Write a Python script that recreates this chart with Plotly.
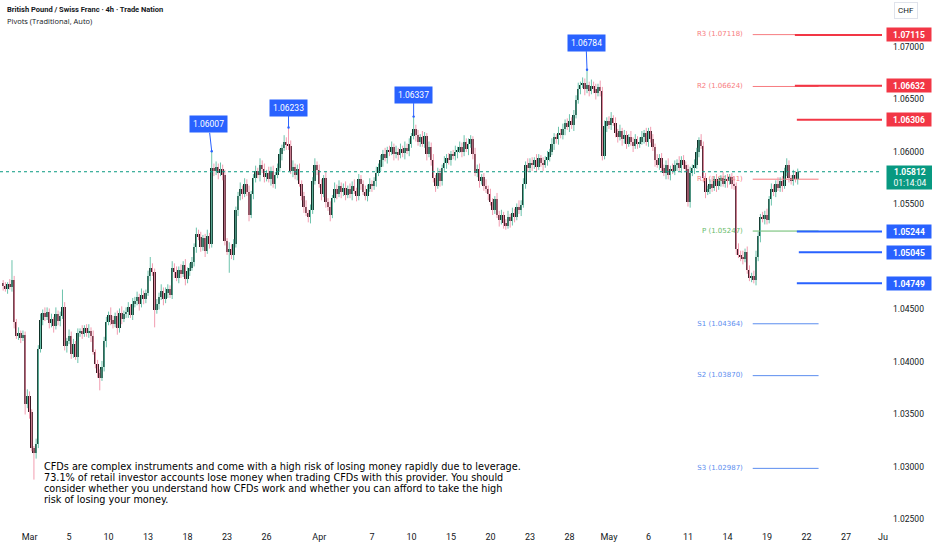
import numpy as np
import plotly.graph_objects as go

# GBP/CHF 4h candles, prices in pips above 1.0000
PIP = 0.0001
first_open = 475
close_pips = [
    472, 470, 474, 471, 478, 438, 425, 428, 423, 426,
    360, 368, 352, 318, 313, 322, 412, 440, 447,
    443, 448, 437, 441, 434, 446, 439, 444, 452,
    415, 420, 425, 408, 417, 405, 428, 430, 427, 432, 428, 430, 425,
    410, 398, 390, 385, 395, 420, 438, 445, 440,
    436, 444, 432, 447, 441, 446, 448, 452, 445, 455,
    458, 462, 455, 464, 460, 466, 482, 490, 486, 450, 455,
    462, 468, 460, 466, 470, 464, 490, 486,
    480, 488, 484, 492, 479, 487, 490, 495, 510, 522, 519,
    510, 518, 506, 520, 512, 585, 582, 586, 580, 584, 578,
    515, 505, 508, 502, 512, 545, 558, 565, 560, 570, 562, 540, 560,
    575, 582, 578, 588, 584, 576, 580, 574, 582, 570, 578, 585,
    598, 604, 610, 607, 606, 582, 586, 578, 584, 570, 558,
    548, 542, 538, 545, 572, 588, 583,
    570, 560, 575, 552, 548, 540, 556, 565, 560, 568,
    562, 566, 559, 565, 560, 568, 563, 558, 574, 570,
    562, 558, 565, 570, 568, 572,
    580, 586, 592, 598, 594, 602, 600, 605, 598,
    600, 597, 603, 599, 604, 601, 608, 615, 622, 616, 610, 614,
    608, 615, 598, 605, 592, 575, 568, 580, 572, 585,
    590, 594, 592, 598, 596, 600, 602, 605, 600, 610, 603, 608, 612, 598,
    580, 584, 572, 576, 568, 565, 560, 552, 545, 555, 540,
    535, 540, 532, 530, 538, 534, 542, 538, 548, 545, 550,
    570, 588, 585, 590, 588, 592, 586, 594, 590, 588, 592, 595,
    600, 608, 614, 612, 618, 616, 622, 628, 624, 630, 626, 635,
    650, 660, 664, 666, 660, 664, 658, 663, 660, 656, 662, 658,
    596, 625, 630, 626, 632, 628, 618, 614, 620,
    612, 616, 608, 614, 610, 606, 612, 608, 610,
    614, 618, 610, 620, 612, 605, 592, 588, 594,
    585, 580, 588, 578, 584, 582, 588, 590, 585, 592, 588, 584,
    552, 580, 585, 588, 600, 611, 606, 575, 562, 565,
    570, 566, 574, 568, 572, 575, 570, 574, 572, 576, 570,
    568, 508, 502, 500, 498, 505, 488, 480, 482, 478,
    500, 520, 538, 536, 540, 535, 555, 565, 562,
    570, 566, 572, 568, 582, 588, 575, 572, 578, 574, 581.2,
]
upper_wick = [
    3, 4, 2, 5, 19, 4, 3, 5, 2, 4, 3, 6, 4, 3, 2, 5, 4, 6, 3, 5,
    4, 3, 5, 2, 6, 3, 4, 17, 5, 3, 6, 4, 5, 3, 4, 2, 5, 3, 4, 6,
    3, 5, 2, 4, 3, 6, 4, 5, 3, 7, 4, 3, 5, 4, 6, 3, 4, 5, 3, 6,
    4, 5, 3, 6, 4, 3, 5, 10, 4, 3, 5, 4, 6, 3, 5, 4, 3, 6, 4, 5,
    3, 5, 4, 6, 3, 4, 5, 3, 6, 4, 5, 3, 4, 6, 3, 15.7, 4, 5, 3, 6,
    4, 5, 3, 6, 4, 5, 3, 4, 6, 3, 5, 4, 6, 3, 4, 5, 3, 6, 4, 5,
    3, 6, 4, 5, 3, 4, 5, 3, 6, 4, 16.3, 5, 6, 3, 4, 5, 3, 4, 6, 3,
    5, 4, 6, 3, 5, 4, 3, 6, 4, 5, 3, 6, 4, 5, 3, 4, 6, 3, 5, 4,
    6, 3, 5, 4, 3, 6, 4, 5, 3, 4, 6, 3, 5, 4, 6, 3, 4, 5, 3, 6,
    4, 5, 3, 6, 4, 5, 3, 11.7, 4, 5, 3, 6, 4, 3, 5, 4, 6, 3, 5, 4,
    3, 6, 4, 5, 3, 4, 6, 3, 5, 4, 6, 3, 5, 4, 3, 6, 4, 5, 3, 4,
    6, 3, 5, 4, 3, 6, 4, 5, 3, 4, 6, 3, 5, 4, 3, 6, 4, 5, 3, 6,
    4, 5, 3, 6, 4, 3, 5, 4, 6, 3, 5, 4, 3, 6, 4, 5, 3, 4, 6, 3,
    5, 4, 6, 3, 5, 4, 14.4, 3, 6, 4, 5, 3, 6, 4, 5, 3, 4, 6, 3, 5,
    4, 6, 3, 5, 4, 3, 6, 4, 5, 3, 4, 6, 3, 5, 3, 4, 5, 3, 6, 4,
    5, 3, 4, 6, 3, 5, 4, 3, 6, 4, 5, 3, 4, 6, 3, 5, 4, 3, 6, 4,
    5, 3, 4, 6, 3, 5, 4, 3, 6, 4, 5, 3, 4, 6, 3, 5, 4, 6, 3, 5,
    4, 3, 5, 6, 4, 3, 5, 4, 6, 3, 5, 4, 3, 6, 4, 5, 3, 6, 4, 3,
    5, 4, 3,
]
lower_wick = [
    4, 3, 5, 2, 4, 6, 3, 4, 5, 3, 10, 4, 6, 3, 25, 5, 4, 3, 5, 4,
    3, 5, 4, 6, 3, 4, 5, 3, 4, 6, 3, 5, 4, 3, 6, 4, 5, 3, 4, 5,
    6, 3, 4, 5, 12, 3, 4, 6, 3, 5, 4, 3, 6, 4, 5, 3, 4, 6, 3, 5,
    3, 4, 6, 3, 5, 4, 3, 5, 4, 17, 4, 5, 3, 6, 4, 5, 3, 4, 6, 3,
    5, 4, 3, 6, 4, 5, 3, 4, 6, 3, 5, 4, 6, 3, 4, 3, 5, 4, 6, 3,
    5, 4, 3, 20, 4, 5, 3, 6, 4, 5, 3, 4, 6, 3, 5, 4, 3, 6, 4, 5,
    4, 3, 6, 4, 5, 3, 4, 6, 3, 5, 4, 3, 6, 4, 5, 3, 4, 6, 3, 5,
    6, 4, 3, 5, 4, 6, 3, 5, 4, 6, 3, 4, 5, 3, 6, 4, 5, 3, 4, 6,
    3, 5, 4, 6, 3, 4, 5, 3, 6, 4, 5, 3, 4, 6, 3, 5, 4, 3, 6, 4,
    5, 3, 4, 6, 3, 5, 4, 3, 6, 4, 5, 3, 4, 6, 3, 5, 4, 6, 3, 5,
    4, 3, 6, 4, 5, 3, 4, 6, 3, 5, 4, 3, 6, 4, 5, 3, 4, 6, 3, 5,
    4, 6, 3, 5, 4, 3, 6, 4, 5, 4, 3, 6, 4, 5, 3, 4, 6, 3, 5, 4,
    3, 6, 4, 5, 3, 4, 6, 3, 5, 4, 3, 6, 4, 5, 3, 4, 6, 3, 5, 4,
    6, 3, 4, 5, 3, 6, 4, 5, 3, 4, 6, 3, 5, 4, 3, 6, 4, 5, 3, 4,
    5, 3, 6, 4, 5, 3, 4, 6, 3, 5, 4, 3, 6, 4, 5, 3, 4, 6, 3, 5,
    4, 3, 6, 4, 5, 3, 4, 6, 3, 5, 4, 3, 4, 5, 3, 6, 4, 5, 3, 4,
    6, 3, 5, 4, 3, 6, 4, 5, 3, 4, 6, 3, 5, 4, 6, 3, 4, 5, 3, 4,
    3, 4, 3.1, 5, 4, 6, 3, 5, 4, 3, 6, 4, 5, 3, 4, 6, 3, 5, 4, 3,
    4, 3, 5,
]

# x axis (candle index of the first bar of each labelled day)
tick_idx = [12, 30, 48, 66, 84, 102, 120, 144, 168, 186, 204, 222, 240, 258,
            276, 294, 312, 330, 348, 366, 384]
tick_text = ["Mar", "5", "10", "13", "18", "23", "26", "Apr", "7", "10", "15",
             "20", "23", "28", "May", "6", "11", "14", "19", "22", "27"]

# price scale labels that are visible (1.05000 is hidden under a level tag)
price_ticks = [1.025, 1.030, 1.035, 1.040, 1.045, 1.055, 1.060, 1.065, 1.070]

# weekly pivots (Traditional)
pivot_names = ["R3", "R2", "R1", "P", "S1", "S2", "S3"]
pivot_values = [1.07118, 1.06624, 1.05741, 1.05247, 1.04364, 1.03870, 1.02987]
pivot_start, pivot_end = 341.5, 371.5

# drawn horizontal levels
level_values = [1.07115, 1.06632, 1.06306, 1.05244, 1.05045, 1.04749]
level_start = [360.7, 360.7, 361.6, 361.6, 362.5, 361.6]
level_colors = ["#f23645"] * 3 + ["#2962ff"] * 3

# swing-high callouts
peak_idx = [95, 130, 187, 266]
peak_offsets = [(-3, -27), (0, -20), (0, -22), (-1, -27)]

last_price = 1.05812
countdown = "01:14:04"

disclaimer = [
    "CFDs are complex instruments and come with a high risk of losing money rapidly due to leverage.",
    "73.1% of retail investor accounts lose money when trading CFDs with this provider. You should",
    "consider whether you understand how CFDs work and whether you can afford to take the high",
    "risk of losing your money.",
]

X_MIN, X_MAX = -1.46, 400.4
Y_MIN, Y_MAX = 1.024571, 1.074476
PLOT_H = 524

close = 1 + np.array(close_pips) * PIP
open_ = np.concatenate([[1 + first_open * PIP], close[:-1]])
high = np.maximum(open_, close) + np.array(upper_wick) * PIP
low = np.minimum(open_, close) - np.array(lower_wick) * PIP
idx = np.arange(len(close))
up = close >= open_

BULL_WICK, BEAR_WICK = "#6cc3ac", "#f29cb0"
BULL_BODY, BEAR_BODY = "#0f3329", "#3a1520"
TXT = "#131722"

fig = go.Figure()

# pivot lines + labels (behind the candles)
piv_col = {"R": "#f77c80", "P": "#66bb6a", "S": "#5b8def"}
for name, val in zip(pivot_names, pivot_values):
    c = piv_col[name[0]]
    fig.add_trace(go.Scatter(x=[pivot_start, pivot_end], y=[val, val], mode="lines",
                             line=dict(color=c, width=1), hoverinfo="skip"))
    fig.add_trace(go.Scatter(x=[pivot_start - 4.5], y=[val], mode="text",
                             text=[f"{name} ({val:.5f})"], textposition="middle left",
                             textfont=dict(size=7, color=c, family="DejaVu Sans"),
                             hoverinfo="skip"))

# wicks
for mask, col in [(up, BULL_WICK), (~up, BEAR_WICK)]:
    wx, wy = [], []
    for i in idx[mask]:
        wx += [i, i, None]
        wy += [low[i], high[i], None]
    fig.add_trace(go.Scatter(x=wx, y=wy, mode="lines", line=dict(color=col, width=1),
                             hoverinfo="skip"))

# bodies
body_lo = np.minimum(open_, close)
body_h = np.maximum(np.abs(close - open_), 0.00004)
fig.add_trace(go.Bar(x=idx, base=body_lo, y=body_h, width=0.9,
                     marker=dict(color=np.where(up, BULL_BODY, BEAR_BODY), line=dict(width=0)),
                     hoverinfo="skip"))

shapes = [dict(type="line", xref="paper", x0=0, x1=1, yref="y", y0=last_price, y1=last_price,
               line=dict(color="#089981", width=1, dash="dot"))]
for val, x0, col in zip(level_values, level_start, level_colors):
    shapes.append(dict(type="line", xref="x", x0=x0, x1=X_MAX, yref="y", y0=val, y1=val,
                       line=dict(color=col, width=2)))

annotations = []
for val, col in zip(level_values, level_colors):
    annotations.append(dict(xref="paper", x=1, xanchor="left", xshift=4, yref="y", y=val,
                            text=f"<b>{val:.5f}</b>", showarrow=False, bgcolor=col,
                            font=dict(color="white", size=8.5, family="Roboto"),
                            width=44, height=13, borderpad=0))
annotations.append(dict(xref="paper", x=1, xanchor="left", xshift=4, yref="y", y=last_price,
                        yanchor="top", yshift=7,
                        text=f"<b>{last_price:.5f}</b><br>{countdown}", showarrow=False,
                        bgcolor="#089981", font=dict(color="white", size=8.5, family="Roboto"),
                        width=44, borderpad=1))
for i, (ax, ay) in zip(peak_idx, peak_offsets):
    annotations.append(dict(x=i, y=high[i], xref="x", yref="y", ax=ax, ay=ay,
                            text=f"{high[i]:.5f}", showarrow=True, arrowhead=6,
                            arrowsize=0.6, arrowwidth=1, arrowcolor="#2962ff",
                            bgcolor="#2962ff", borderpad=3,
                            font=dict(color="white", size=8.5, family="Roboto")))

annotations += [
    dict(xref="paper", yref="paper", x=0.006, y=1 - 10 / PLOT_H, xanchor="left", yanchor="middle",
         text="<b>British Pound / Swiss Franc · 4h · Trade Nation</b>", showarrow=False,
         font=dict(size=7.5, color=TXT, family="Roboto")),
    dict(xref="paper", yref="paper", x=0.006, y=1 - 21 / PLOT_H, xanchor="left", yanchor="middle",
         text="Pivots (Traditional, Auto)", showarrow=False,
         font=dict(size=7.5, color=TXT, family="Open Sans")),
    dict(xref="paper", yref="paper", x=1, xshift=24, y=1 - 11 / PLOT_H, xanchor="center",
         yanchor="middle", text="CHF", showarrow=False, bordercolor="#e0e3eb", borderwidth=1,
         borderpad=3, font=dict(size=8, color=TXT, family="Roboto")),
    dict(xref="paper", yref="paper", x=0.993, y=0, yshift=-13, xanchor="left", yanchor="middle",
         text="Ju", showarrow=False, font=dict(size=9, color=TXT, family="Roboto")),
]
for k, line in enumerate(disclaimer):
    annotations.append(dict(xref="paper", yref="paper", x=42 / 882, y=1 - (466 + 11 * k) / PLOT_H,
                            xanchor="left", yanchor="middle", align="left", showarrow=False,
                            text=line, font=dict(size=9.7, color="black", family="DejaVu Sans")))

fig.update_layout(
    width=932, height=550,
    margin=dict(l=0, r=50, t=0, b=550 - PLOT_H),
    paper_bgcolor="white", plot_bgcolor="white",
    showlegend=False, bargap=0,
    shapes=shapes, annotations=annotations,
    xaxis=dict(range=[X_MIN, X_MAX], tickvals=tick_idx, ticktext=tick_text,
               showgrid=False, zeroline=False, showline=False, ticks="",
               ticklabelstandoff=6,
               tickfont=dict(size=9, color=TXT, family="Roboto")),
    yaxis=dict(range=[Y_MIN, Y_MAX], side="right", tickvals=price_ticks,
               tickformat=".5f", showgrid=False, zeroline=False, showline=False,
               ticks="", ticklabelstandoff=10,
               tickfont=dict(size=8.5, color=TXT, family="Roboto")),
)

fig.write_html("out.html", config={"displayModeBar": False},
               post_script="document.body.style.margin='0';")
